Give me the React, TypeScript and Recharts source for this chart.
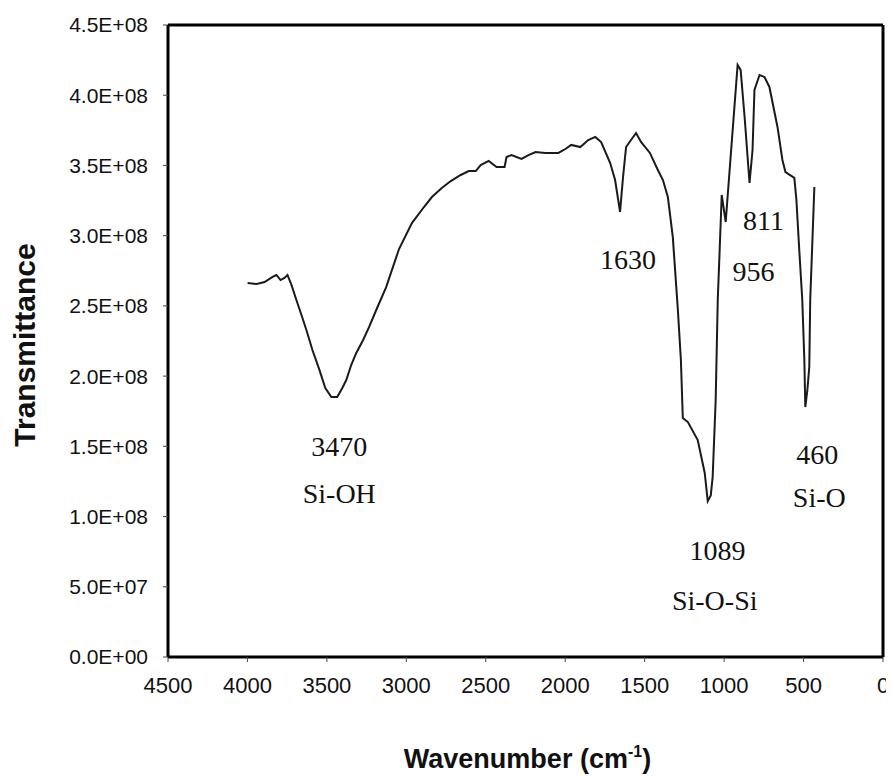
import React from 'react';
import { LineChart, Line, XAxis, YAxis, ReferenceLine, ReferenceDot } from 'recharts';

const wavenumbers = [3999, 3942, 3892, 3842, 3817, 3792, 3767, 3748, 3723, 3692, 3660, 3629, 3591, 3547, 3510, 3472, 3435, 3403, 3378, 3347, 3315, 3272, 3234, 3184, 3127, 3046, 2965, 2889, 2839, 2777, 2720, 2658, 2607, 2563, 2532, 2482, 2432, 2382, 2369, 2338, 2275, 2231, 2187, 2125, 2043, 1999, 1962, 1905, 1855, 1811, 1774, 1717, 1686, 1655, 1636, 1617, 1586, 1554, 1523, 1467, 1417, 1385, 1354, 1323, 1291, 1272, 1260, 1228, 1166, 1122, 1103, 1084, 1072, 1053, 1040, 1028, 1015, 990, 959, 915, 896, 871, 840, 821, 809, 777, 746, 715, 664, 633, 614, 558, 545, 527, 508, 495, 489, 476, 464, 458, 432];

const transmittanceE8 = [2.663, 2.656, 2.670, 2.706, 2.720, 2.684, 2.699, 2.720, 2.649, 2.542, 2.435, 2.328, 2.186, 2.044, 1.915, 1.851, 1.851, 1.915, 1.972, 2.079, 2.165, 2.257, 2.350, 2.485, 2.634, 2.905, 3.090, 3.204, 3.275, 3.339, 3.389, 3.432, 3.460, 3.460, 3.503, 3.532, 3.489, 3.489, 3.560, 3.574, 3.546, 3.574, 3.596, 3.589, 3.589, 3.617, 3.646, 3.631, 3.681, 3.703, 3.667, 3.517, 3.396, 3.169, 3.418, 3.631, 3.681, 3.731, 3.667, 3.589, 3.468, 3.396, 3.275, 2.991, 2.471, 2.115, 1.702, 1.673, 1.545, 1.310, 1.110, 1.150, 1.282, 1.830, 2.542, 2.898, 3.290, 3.097, 3.560, 4.215, 4.180, 3.845, 3.375, 3.610, 4.037, 4.144, 4.130, 4.059, 3.774, 3.539, 3.453, 3.411, 3.254, 2.898, 2.542, 2.115, 1.780, 1.901, 2.065, 2.542, 3.347];

const xTicks = [4500, 4000, 3500, 3000, 2500, 2000, 1500, 1000, 500, 0];
const yTicks = [0, 5e7, 1e8, 1.5e8, 2e8, 2.5e8, 3e8, 3.5e8, 4e8, 4.5e8];

const annotationText = ['3470', 'Si-OH', '1630', '811', '956', '1089', 'Si-O-Si', '460', 'Si-O'];
const annotationW = [3422, 3422, 1605, 752, 815, 1041, 1059, 414, 401];
const annotationVE8 = [1.502, 1.168, 2.834, 3.112, 2.748, 0.762, 0.406, 1.445, 1.139];

const data = wavenumbers.map((w, i) => ({ w, v: transmittanceE8[i] * 1e8 }));

const fmtY = (v: number) => {
  if (v === 0) return '0.0E+00';
  const exp = Math.floor(Math.log10(v) + 1e-9);
  const mant = v / Math.pow(10, exp);
  return `${mant.toFixed(1)}E+${String(exp).padStart(2, '0')}`;
};

const SANS = 'Liberation Sans, Arial, sans-serif';
const SERIF = 'Liberation Serif, Times New Roman, serif';

const XTitle = (props: any) => {
  const vb = props.viewBox || {};
  const cx = vb.x + vb.width / 2 + 2;
  const y = 760;
  return (
    <text x={cx} y={y} textAnchor="middle" fontFamily={SANS} fontWeight="bold" fontSize={27} fill="#111">
      Wavenumber (cm
      <tspan dy={-11} fontSize={16}>-1</tspan>
      <tspan dy={11}>)</tspan>
    </text>
  );
};

const YTitle = () => {
  const cx = 16;
  const cy = 337;
  return (
    <text x={cx} y={cy} transform={`rotate(-90 ${cx} ${cy})`} textAnchor="middle" dominantBaseline="central" fontFamily={SANS} fontWeight="bold" fontSize={30} fill="#111">
      Transmittance
    </text>
  );
};

export default function App() {
  return (
    <LineChart width={886} height={768} data={data} margin={{ top: 17, right: 11, bottom: 79, left: 0 }} style={{ overflow: 'visible' }}>
      <XAxis
        dataKey="w"
        type="number"
        domain={[0, 4500]}
        reversed
        ticks={xTicks}
        allowDataOverflow
        interval={0}
        height={40}
        axisLine={{ stroke: '#000', strokeWidth: 3 }}
        tickLine={{ stroke: '#444' }}
        tickSize={5}
        tickMargin={15}
        tick={{ fill: '#111', fontSize: 22, fontFamily: SANS }}
        label={<XTitle />}
      />
      <YAxis
        type="number"
        domain={[0, 4.5e8]}
        ticks={yTicks}
        interval={0}
        width={160}
        tickFormatter={fmtY}
        axisLine={{ stroke: '#000', strokeWidth: 3 }}
        tickLine={{ stroke: '#444' }}
        tickSize={5}
        tickMargin={15}
        tick={{ fill: '#111', fontSize: 21, fontFamily: SANS }}
        label={<YTitle />}
      />
      <ReferenceLine y={4.5e8} stroke="#000" strokeWidth={3} />
      <ReferenceLine x={0} stroke="#000" strokeWidth={3} />
      <Line dataKey="v" type="linear" stroke="#1a1a1a" strokeWidth={2} dot={false} isAnimationActive={false} />
      {annotationText.map((t, i) => (
        <ReferenceDot
          key={t + i}
          x={annotationW[i]}
          y={annotationVE8[i] * 1e8}
          r={0}
          fill="none"
          stroke="none"
          label={{ value: t, position: 'center', fill: '#111', fontSize: 28, fontFamily: SERIF }}
        />
      ))}
    </LineChart>
  );
}
